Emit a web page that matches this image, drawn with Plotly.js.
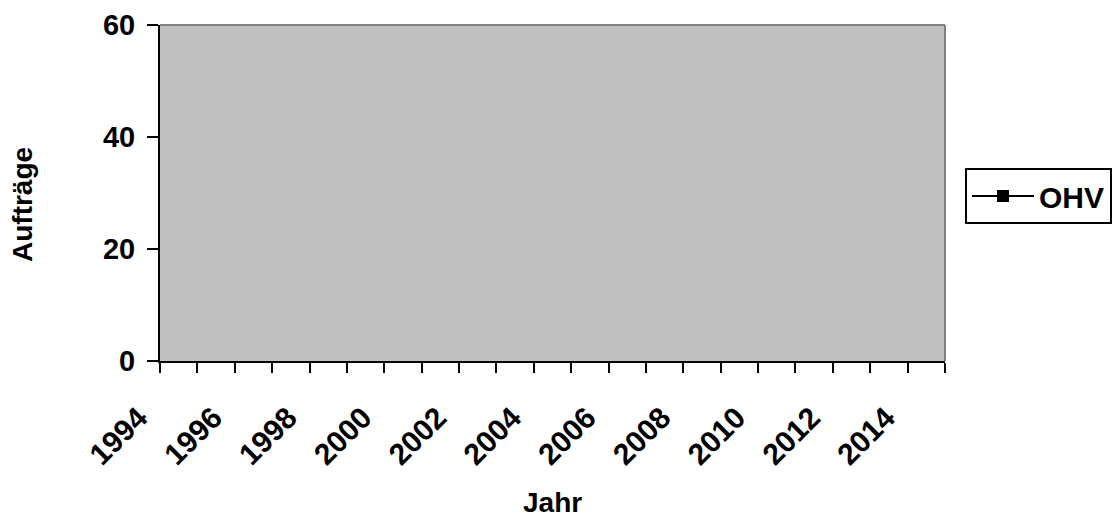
<!DOCTYPE html>
<html>
<head>
<meta charset="utf-8">
<script src="https://cdn.plot.ly/plotly-3.0.1.min.js"></script>
<style>
html,body{margin:0;padding:0;background:#fff;}
#chart{width:1114px;height:517px;}
</style>
</head>
<body>
<div id="chart"></div>
<script>
// Data: the reference shows the series "OHV" with no visible points
const years = [1994,1995,1996,1997,1998,1999,2000,2001,2002,2003,2004,2005,2006,2007,2008,2009,2010,2011,2012,2013,2014];
const ohvValues = [null,null,null,null,null,null,null,null,null,null,null,null,null,null,null,null,null,null,null,null,null];
const yTicks = [0,20,40,60];
const xLabelYears = [1994,1996,1998,2000,2002,2004,2006,2008,2010,2012,2014];
const seriesName = 'OHV';

const fam = 'Liberation Sans, Arial, sans-serif';
const fs = 28;
const L = 160, R = 169, T = 25, B = 156, W = 1114, H = 517;
const pw = W - L - R, ph = H - T - B;
const px = x => (x - L) / pw;
const py = y => 1 - (y - T) / ph;

const trace = {
  x: years, y: ohvValues, name: seriesName, type: 'scatter', mode: 'lines+markers',
  line: {color: '#000', width: 2}, marker: {symbol: 'square', size: 12, color: '#000'},
  showlegend: true
};

const layout = {
  width: W, height: H,
  margin: {l: L, r: R, t: T, b: B, autoexpand: false},
  paper_bgcolor: '#fff', plot_bgcolor: '#c0c0c0',
  font: {family: fam, size: fs, color: '#000'},
  xaxis: {
    range: [1993.5, 2014.5], tickmode: 'array', tickvals: xLabelYears,
    ticktext: xLabelYears.map(String), tickangle: -45, ticks: '',
    ticklabelshift: -40, ticklabelstandoff: 25,
    minor: {tick0: 1993.5, dtick: 1, ticks: 'outside', ticklen: 10, tickwidth: 2, tickcolor: '#000', showgrid: false},
    showgrid: false, zeroline: false, showline: true, linecolor: '#000', linewidth: 2,
    tickfont: {family: fam, size: 30, color: '#000', weight: 'bold'},
    fixedrange: true
  },
  yaxis: {
    range: [0, 60], tickmode: 'array', tickvals: yTicks, ticks: 'outside', ticklen: 11, tickwidth: 2, tickcolor: '#000',
    ticklabelstandoff: 6,
    showgrid: false, zeroline: false, showline: true, linecolor: '#000', linewidth: 2,
    tickfont: {family: fam, size: 29, color: '#000', weight: 'bold'},
    fixedrange: true
  },
  annotations: [
    {text: '<b>Jahr</b>', xref: 'paper', yref: 'paper', x: 0.5, y: py(502), xanchor: 'center', yanchor: 'middle', showarrow: false, font: {family: fam, size: fs, color: '#000'}},
    {text: '<b>Aufträge</b>', xref: 'paper', yref: 'paper', x: px(22), y: py(205), xanchor: 'center', yanchor: 'middle', textangle: -90, showarrow: false, font: {family: fam, size: fs, color: '#000'}}
  ],
  showlegend: true,
  legend: {
    x: px(965), xanchor: 'left', y: py(168), yanchor: 'top',
    bordercolor: '#000', borderwidth: 2, bgcolor: '#fff',
    font: {family: fam, size: 30, color: '#000', weight: 'bold'},
    itemwidth: 62, tracegroupgap: 0
  },
  shapes: [
    {type: 'line', xref: 'paper', yref: 'paper', x0: 0, x1: 1, y0: 1, y1: 1, line: {color: '#808080', width: 2}},
    {type: 'line', xref: 'paper', yref: 'paper', x0: 1, x1: 1, y0: 0, y1: 1, line: {color: '#808080', width: 2}}
  ]
};

Plotly.newPlot('chart', [trace], layout, {displayModeBar: false, staticPlot: true});
</script>
</body>
</html>
